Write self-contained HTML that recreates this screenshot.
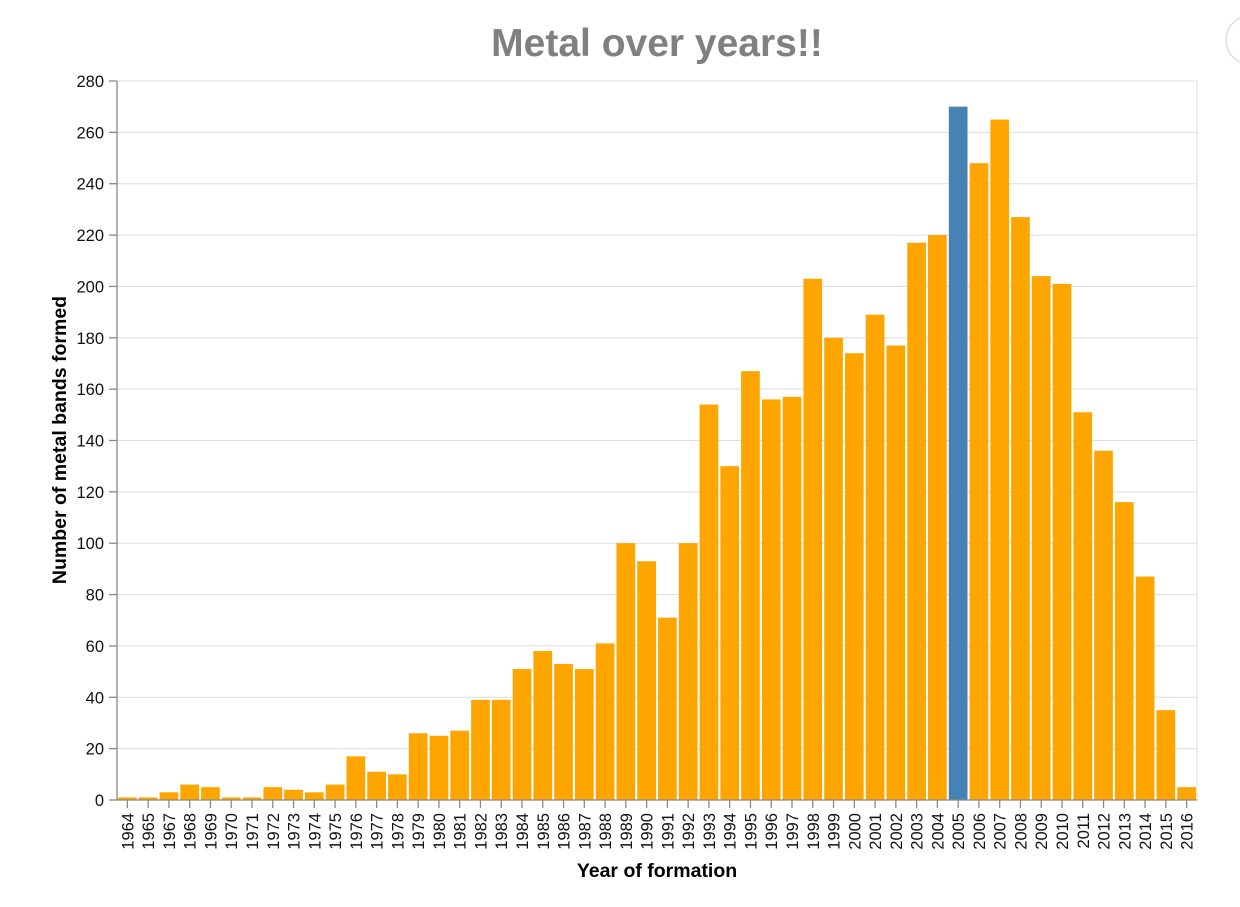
<!DOCTYPE html>
<html><head><meta charset="utf-8"><style>
body{margin:0;background:#fff;font-family:"Liberation Sans",sans-serif}
svg text{font-family:"Liberation Sans",sans-serif}
</style></head><body>
<svg width="1240" height="902">
<circle cx="1250" cy="40" r="24" fill="#fff" stroke="#ddd" stroke-width="1.5"/>
<text x="657" y="56" text-anchor="middle" font-size="39" font-weight="bold" fill="#808080">Metal over years!!</text>
<g id="grid"></g><g id="bars"></g><g id="axes"></g>
<text transform="translate(66,440) rotate(-90)" text-anchor="middle" font-size="19.5" font-weight="bold">Number of metal bands formed</text>
<text x="657" y="877" text-anchor="middle" font-size="19.5" font-weight="bold">Year of formation</text>
</svg>
<script>
const years=[1964,1965,1967,1968,1969,1970,1971,1972,1973,1974,1975,1976,1977,1978,1979,1980,1981,1982,1983,1984,1985,1986,1987,1988,1989,1990,1991,1992,1993,1994,1995,1996,1997,1998,1999,2000,2001,2002,2003,2004,2005,2006,2007,2008,2009,2010,2011,2012,2013,2014,2015,2016];
const counts=[1,1,3,6,5,1,1,5,4,3,6,17,11,10,26,25,27,39,39,51,58,53,51,61,100,93,71,100,154,130,167,156,157,203,180,174,189,177,217,220,270,248,265,227,204,201,151,136,116,87,35,5];
const highlightYear=2005;
const yTicks=[0,20,40,60,80,100,120,140,160,180,200,220,240,260,280];
const NS="http://www.w3.org/2000/svg";
const X0=117,X1=1197,Y0=800,Y1=81,YMAX=280;
const band=(X1-X0)/years.length;
const xs=i=>X0+i*band;
const ys=v=>Y0-(v/YMAX)*(Y0-Y1);
function mk(t,a,p){const e=document.createElementNS(NS,t);for(const k in a)e.setAttribute(k,a[k]);p.appendChild(e);return e;}
const grid=document.getElementById('grid'),bars=document.getElementById('bars'),axes=document.getElementById('axes');
yTicks.forEach(t=>{
 const y=ys(t);
 const l=mk('line',{x1:X0,x2:X1,y1:y,y2:y,stroke:'#ddd','stroke-width':1},grid);
 
 
 mk('line',{x1:X0-8,x2:X0,y1:y,y2:y,stroke:'#888','stroke-width':1.3},axes);
 const tx=mk('text',{x:X0-13,y:y+6,'text-anchor':'end','font-size':16.5,fill:'#111'},axes);
 tx.textContent=t;
 
 
});
mk('line',{x1:X1,x2:X1,y1:Y1,y2:Y0,stroke:'#ddd'},grid);
years.forEach((yr,i)=>{
 const x=xs(i)+band*0.05, w=band*0.9;
 const r=mk('rect',{x:x,y:ys(counts[i]),width:w,height:Y0-ys(counts[i]),fill:yr===highlightYear?'#4682b4':'#ffa500'},bars);
 
 
 const cx=xs(i)+band/2;
 mk('line',{x1:cx,x2:cx,y1:Y0,y2:Y0+8,stroke:'#888','stroke-width':1.3},axes);
 const t=mk('text',{transform:`translate(${cx+6},${Y0+13}) rotate(-90)`,'text-anchor':'end','font-size':16.5,fill:'#111'},axes);
 t.textContent=yr;
 
 
});
mk('line',{x1:X0,x2:X0,y1:Y1,y2:Y0,stroke:'#888','stroke-width':1.3},axes);
mk('line',{x1:X0,x2:X1,y1:Y0,y2:Y0,stroke:'#888','stroke-width':1.3},axes);
</script>
</body></html>
